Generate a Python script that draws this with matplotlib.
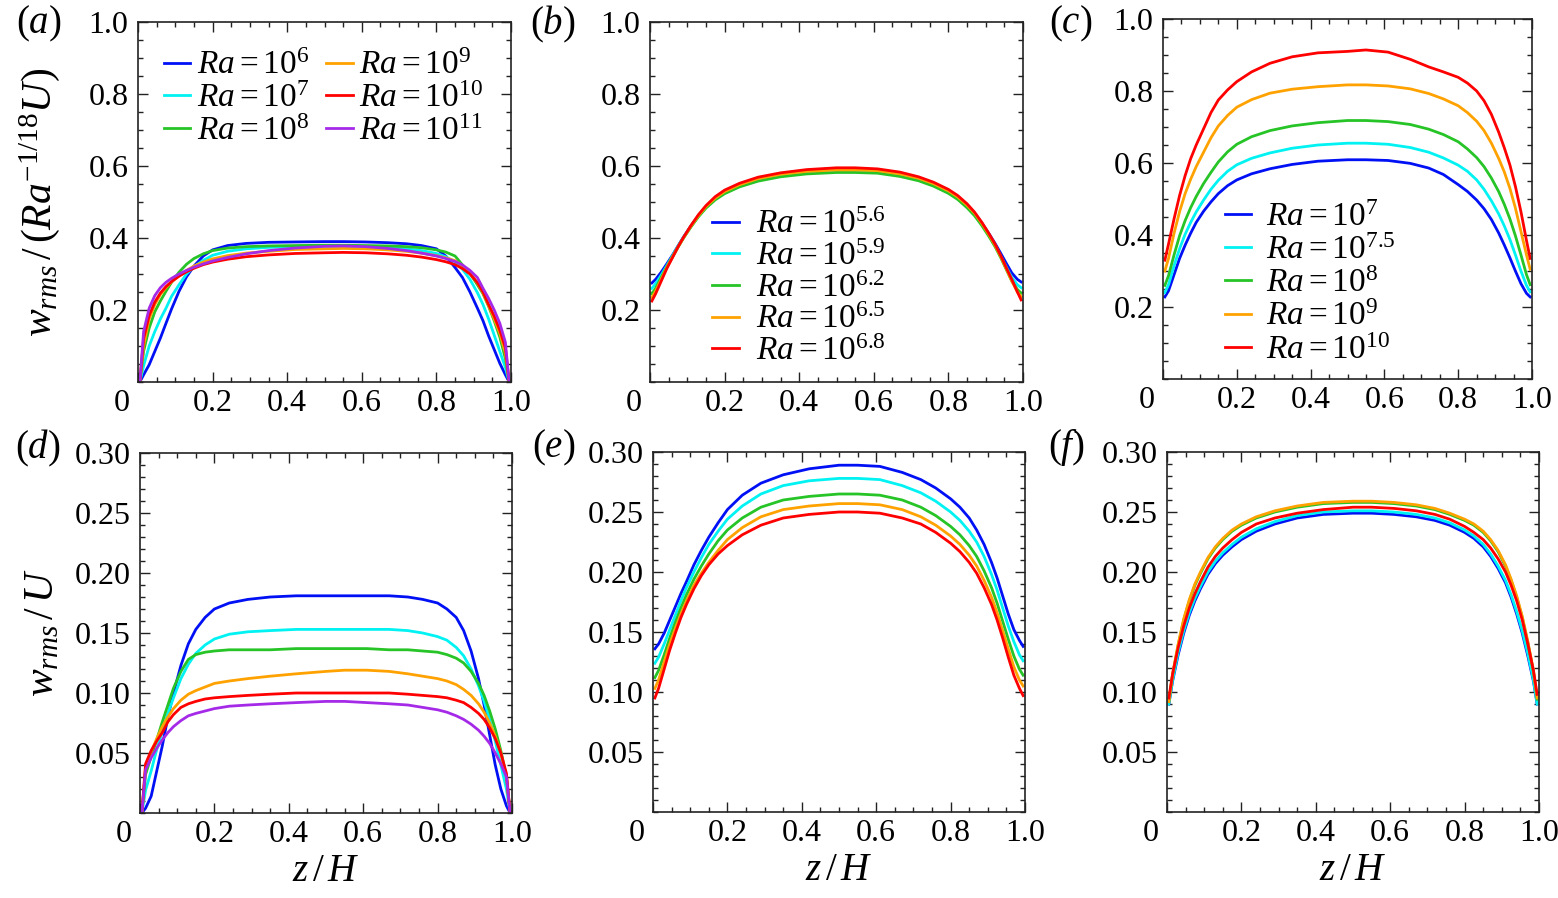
import matplotlib
matplotlib.use("Agg")
import matplotlib.pyplot as plt
from matplotlib.ticker import MultipleLocator, FixedLocator

plt.rcParams['font.family'] = ['Liberation Serif', 'DejaVu Serif']
plt.rcParams['mathtext.fontset'] = 'custom'
plt.rcParams['mathtext.rm'] = 'Liberation Serif'
plt.rcParams['mathtext.it'] = 'Liberation Serif:italic'
plt.rcParams['mathtext.bf'] = 'Liberation Serif:bold'

# ---------------- data ----------------
z = [0.005, 0.015, 0.03, 0.045, 0.06, 0.075, 0.09, 0.11, 0.13, 0.15, 0.175, 0.20, 0.24, 0.29, 0.35, 0.42,
     0.50, 0.55, 0.61,
     0.67, 0.72, 0.76, 0.80, 0.825, 0.85, 0.87, 0.89, 0.91, 0.925, 0.94, 0.955, 0.97, 0.985, 0.995]

# panel (a): w_rms/(Ra^-1/18 U)
a_labels = [r'$Ra=10^{6}$', r'$Ra=10^{7}$', r'$Ra=10^{8}$',
            r'$Ra=10^{9}$', r'$Ra=10^{10}$', r'$Ra=10^{11}$']
a_1e6 = [0.0, 0.02, 0.048, 0.085, 0.122, 0.163, 0.203, 0.252, 0.292, 0.322, 0.35, 0.367, 0.379, 0.385, 0.388, 0.389,
         0.39, 0.39, 0.389,
         0.387, 0.384, 0.379, 0.37, 0.35, 0.318, 0.29, 0.25, 0.205, 0.17, 0.128, 0.09, 0.052, 0.02, 0.0]
a_1e7 = [0.0, 0.045, 0.10, 0.14, 0.175, 0.205, 0.238, 0.27, 0.30, 0.32, 0.338, 0.352, 0.363, 0.37, 0.374, 0.376,
         0.377, 0.377, 0.376,
         0.374, 0.37, 0.365, 0.357, 0.348, 0.333, 0.313, 0.285, 0.248, 0.215, 0.175, 0.13, 0.085, 0.04, 0.0]
a_1e8 = [0.0, 0.085, 0.15, 0.195, 0.225, 0.252, 0.277, 0.305, 0.327, 0.343, 0.356, 0.365, 0.372, 0.376, 0.378, 0.379,
         0.38, 0.38, 0.379,
         0.378, 0.376, 0.373, 0.367, 0.361, 0.35, 0.325, 0.302, 0.27, 0.245, 0.21, 0.17, 0.125, 0.065, 0.0]
a_1e9 = [0.0, 0.10, 0.175, 0.215, 0.243, 0.262, 0.278, 0.295, 0.31, 0.322, 0.333, 0.342, 0.351, 0.358, 0.363, 0.368,
         0.37, 0.371, 0.37,
         0.367, 0.363, 0.358, 0.351, 0.345, 0.337, 0.323, 0.303, 0.275, 0.248, 0.212, 0.175, 0.135, 0.08, 0.0]
a_1e10 = [0.0, 0.12, 0.185, 0.222, 0.247, 0.265, 0.279, 0.294, 0.306, 0.316, 0.326, 0.333, 0.341, 0.348, 0.353, 0.357,
          0.359, 0.36, 0.359,
          0.356, 0.352, 0.347, 0.34, 0.334, 0.326, 0.315, 0.3, 0.276, 0.25, 0.215, 0.183, 0.144, 0.095, 0.0]
a_1e11 = [0.0, 0.14, 0.205, 0.24, 0.262, 0.277, 0.288, 0.30, 0.31, 0.319, 0.328, 0.336, 0.346, 0.356, 0.365, 0.372,
          0.377, 0.378, 0.376,
          0.371, 0.365, 0.358, 0.35, 0.343, 0.335, 0.325, 0.31, 0.29, 0.26, 0.232, 0.20, 0.163, 0.11, 0.0]

# panel (b)
b_labels = [r'$Ra=10^{5.6}$', r'$Ra=10^{5.9}$', r'$Ra=10^{6.2}$',
            r'$Ra=10^{6.5}$', r'$Ra=10^{6.8}$']
b_56 = [0.275, 0.285, 0.305, 0.328, 0.352, 0.378, 0.403, 0.434, 0.462, 0.486, 0.51, 0.528, 0.548, 0.565, 0.577, 0.585,
        0.589, 0.589, 0.587,
        0.578, 0.566, 0.551, 0.531, 0.514, 0.491, 0.469, 0.441, 0.41, 0.385, 0.358, 0.33, 0.303, 0.285, 0.278]
b_59 = [0.26, 0.273, 0.297, 0.323, 0.35, 0.377, 0.402, 0.433, 0.461, 0.485, 0.509, 0.527, 0.547, 0.563, 0.575, 0.583,
        0.587, 0.587, 0.585,
        0.576, 0.564, 0.549, 0.529, 0.512, 0.489, 0.467, 0.439, 0.407, 0.38, 0.35, 0.32, 0.29, 0.27, 0.262]
b_62 = [0.245, 0.26, 0.29, 0.32, 0.347, 0.374, 0.40, 0.431, 0.459, 0.483, 0.506, 0.523, 0.542, 0.558, 0.57, 0.578,
        0.582, 0.582, 0.58,
        0.571, 0.559, 0.544, 0.524, 0.507, 0.484, 0.462, 0.434, 0.402, 0.376, 0.346, 0.313, 0.28, 0.257, 0.247]
b_65 = [0.235, 0.252, 0.285, 0.318, 0.347, 0.375, 0.401, 0.433, 0.462, 0.487, 0.511, 0.529, 0.548, 0.565, 0.577, 0.585,
        0.589, 0.589, 0.587,
        0.578, 0.566, 0.551, 0.531, 0.514, 0.491, 0.469, 0.44, 0.407, 0.38, 0.349, 0.315, 0.28, 0.25, 0.237]
b_68 = [0.225, 0.245, 0.28, 0.315, 0.345, 0.375, 0.402, 0.435, 0.465, 0.49, 0.515, 0.533, 0.552, 0.569, 0.581, 0.59,
        0.595, 0.595, 0.592,
        0.583, 0.57, 0.555, 0.535, 0.518, 0.495, 0.472, 0.443, 0.41, 0.383, 0.352, 0.318, 0.285, 0.25, 0.228]

# panel (c)
c_labels = [r'$Ra=10^{7}$', r'$Ra=10^{7.5}$', r'$Ra=10^{8}$',
            r'$Ra=10^{9}$', r'$Ra=10^{10}$']
c_7 = [0.228, 0.245, 0.29, 0.335, 0.372, 0.405, 0.435, 0.466, 0.492, 0.515, 0.537, 0.553, 0.57, 0.584, 0.596, 0.605,
       0.609, 0.609, 0.607,
       0.599, 0.586, 0.568, 0.54, 0.521, 0.497, 0.473, 0.443, 0.405, 0.372, 0.337, 0.30, 0.265, 0.238, 0.228]
c_75 = [0.24, 0.262, 0.315, 0.362, 0.402, 0.435, 0.464, 0.497, 0.527, 0.552, 0.577, 0.595, 0.613, 0.628, 0.641, 0.65,
        0.655, 0.655, 0.652,
        0.643, 0.63, 0.614, 0.594, 0.577, 0.553, 0.527, 0.495, 0.458, 0.425, 0.388, 0.345, 0.30, 0.26, 0.242]
c_8 = [0.26, 0.287, 0.345, 0.398, 0.44, 0.476, 0.507, 0.543, 0.574, 0.603, 0.631, 0.652, 0.673, 0.69, 0.703, 0.712,
       0.718, 0.718, 0.715,
       0.707, 0.694, 0.679, 0.659, 0.639, 0.615, 0.59, 0.558, 0.52, 0.485, 0.445, 0.398, 0.345, 0.29, 0.262]
c_9 = [0.30, 0.335, 0.405, 0.465, 0.515, 0.555, 0.59, 0.63, 0.67, 0.703, 0.732, 0.755, 0.776, 0.794, 0.805, 0.812,
       0.817, 0.817, 0.814,
       0.806, 0.793, 0.778, 0.759, 0.74, 0.716, 0.69, 0.655, 0.612, 0.575, 0.53, 0.475, 0.41, 0.345, 0.305]
c_10 = [0.33, 0.375, 0.445, 0.51, 0.565, 0.612, 0.65, 0.695, 0.74, 0.775, 0.803, 0.826, 0.853, 0.877, 0.895, 0.906,
        0.91, 0.914, 0.908,
        0.888, 0.867, 0.853, 0.838, 0.822, 0.80, 0.773, 0.735, 0.685, 0.642, 0.595, 0.535, 0.465, 0.385, 0.335]

# panel (d): w_rms/U
d_1e6 = [0.0, 0.004, 0.014, 0.035, 0.056, 0.08, 0.10, 0.123, 0.141, 0.153, 0.163, 0.17, 0.175, 0.178, 0.18, 0.181,
         0.181, 0.181, 0.181,
         0.181, 0.18, 0.178, 0.175, 0.17, 0.163, 0.152, 0.135, 0.112, 0.09, 0.065, 0.04, 0.02, 0.006, 0.0]
d_1e7 = [0.0, 0.019, 0.035, 0.053, 0.068, 0.083, 0.096, 0.112, 0.124, 0.133, 0.14, 0.145, 0.149, 0.151, 0.152, 0.153,
         0.153, 0.153, 0.153,
         0.153, 0.152, 0.15, 0.147, 0.144, 0.138, 0.131, 0.12, 0.106, 0.093, 0.078, 0.06, 0.04, 0.02, 0.0]
d_1e8 = [0.0, 0.032, 0.047, 0.061, 0.076, 0.09, 0.104, 0.118, 0.128, 0.132, 0.134, 0.135, 0.136, 0.136, 0.136, 0.137,
         0.137, 0.137, 0.137,
         0.136, 0.136, 0.135, 0.134, 0.132, 0.129, 0.125, 0.118, 0.108, 0.098, 0.085, 0.07, 0.052, 0.03, 0.0]
d_1e9 = [0.0, 0.038, 0.051, 0.062, 0.072, 0.08, 0.087, 0.094, 0.099, 0.102, 0.105, 0.108, 0.11, 0.112, 0.114, 0.116,
         0.118, 0.119, 0.119,
         0.118, 0.116, 0.114, 0.112, 0.11, 0.107, 0.103, 0.098, 0.091, 0.084, 0.075, 0.064, 0.05, 0.03, 0.0]
d_1e10 = [0.0, 0.041, 0.052, 0.06, 0.067, 0.076, 0.082, 0.088, 0.091, 0.093, 0.095, 0.096, 0.097, 0.098, 0.099, 0.10,
          0.10, 0.10, 0.10,
          0.10, 0.099, 0.098, 0.097, 0.096, 0.094, 0.092, 0.088, 0.083, 0.078, 0.071, 0.062, 0.05, 0.033, 0.0]
d_1e11 = [0.0, 0.036, 0.046, 0.054, 0.061, 0.067, 0.072, 0.077, 0.081, 0.083, 0.085, 0.087, 0.089, 0.09, 0.091, 0.092,
          0.093, 0.093, 0.092,
          0.091, 0.09, 0.088, 0.086, 0.084, 0.081, 0.078, 0.074, 0.069, 0.064, 0.058, 0.05, 0.041, 0.03, 0.0]

# panel (e)
e_56 = [0.136, 0.14, 0.149, 0.16, 0.171, 0.182, 0.192, 0.206, 0.218, 0.229, 0.241, 0.252, 0.264, 0.274, 0.281, 0.286,
        0.289, 0.289, 0.288,
        0.283, 0.277, 0.27, 0.261, 0.254, 0.245, 0.235, 0.223, 0.208, 0.195, 0.18, 0.165, 0.152, 0.143, 0.138]
e_59 = [0.124, 0.129, 0.14, 0.152, 0.164, 0.176, 0.187, 0.20, 0.212, 0.223, 0.234, 0.244, 0.255, 0.265, 0.272, 0.276,
        0.278, 0.278, 0.277,
        0.272, 0.266, 0.259, 0.25, 0.243, 0.234, 0.225, 0.213, 0.198, 0.185, 0.17, 0.155, 0.142, 0.131, 0.126]
e_62 = [0.112, 0.118, 0.131, 0.145, 0.158, 0.17, 0.181, 0.194, 0.205, 0.215, 0.226, 0.235, 0.245, 0.254, 0.26, 0.263,
        0.265, 0.265, 0.264,
        0.26, 0.254, 0.247, 0.238, 0.231, 0.222, 0.213, 0.201, 0.187, 0.174, 0.159, 0.144, 0.13, 0.119, 0.114]
e_65 = [0.103, 0.11, 0.125, 0.14, 0.153, 0.165, 0.176, 0.189, 0.199, 0.208, 0.218, 0.227, 0.237, 0.246, 0.252, 0.255,
        0.257, 0.257, 0.256,
        0.252, 0.246, 0.239, 0.23, 0.223, 0.214, 0.205, 0.193, 0.179, 0.166, 0.151, 0.136, 0.121, 0.11, 0.105]
e_68 = [0.095, 0.103, 0.119, 0.135, 0.149, 0.162, 0.173, 0.186, 0.197, 0.206, 0.215, 0.222, 0.231, 0.239, 0.245, 0.248,
        0.25, 0.25, 0.249,
        0.245, 0.24, 0.233, 0.224, 0.217, 0.208, 0.199, 0.187, 0.173, 0.16, 0.145, 0.129, 0.114, 0.103, 0.097]

# panel (f)
f_7 = [0.09, 0.109, 0.131, 0.149, 0.164, 0.176, 0.186, 0.198, 0.207, 0.214, 0.221, 0.227, 0.234, 0.24, 0.245, 0.248,
       0.249, 0.249, 0.248,
       0.246, 0.243, 0.239, 0.233, 0.228, 0.221, 0.213, 0.203, 0.191, 0.179, 0.165, 0.149, 0.13, 0.109, 0.09]
f_75 = [0.09, 0.11, 0.133, 0.151, 0.166, 0.178, 0.188, 0.20, 0.209, 0.216, 0.223, 0.229, 0.236, 0.242, 0.247, 0.25,
        0.251, 0.251, 0.25,
        0.248, 0.245, 0.241, 0.235, 0.23, 0.223, 0.215, 0.205, 0.193, 0.181, 0.167, 0.151, 0.132, 0.11, 0.09]
f_8 = [0.092, 0.114, 0.139, 0.16, 0.176, 0.189, 0.199, 0.211, 0.22, 0.227, 0.234, 0.239, 0.245, 0.25, 0.254, 0.257,
       0.258, 0.258, 0.257,
       0.255, 0.252, 0.248, 0.243, 0.239, 0.233, 0.226, 0.217, 0.205, 0.193, 0.179, 0.162, 0.141, 0.117, 0.094]
f_9 = [0.092, 0.115, 0.14, 0.161, 0.177, 0.19, 0.20, 0.212, 0.221, 0.228, 0.235, 0.24, 0.246, 0.251, 0.255, 0.258,
       0.259, 0.259, 0.258,
       0.256, 0.253, 0.249, 0.244, 0.24, 0.234, 0.227, 0.218, 0.206, 0.194, 0.18, 0.163, 0.142, 0.118, 0.095]
f_10 = [0.095, 0.115, 0.137, 0.155, 0.17, 0.182, 0.192, 0.204, 0.213, 0.22, 0.227, 0.233, 0.24, 0.245, 0.249, 0.252,
        0.254, 0.254, 0.253,
        0.251, 0.248, 0.244, 0.238, 0.233, 0.227, 0.22, 0.211, 0.20, 0.189, 0.176, 0.16, 0.14, 0.118, 0.098]

x_ticks = [0, 0.2, 0.4, 0.6, 0.8, 1.0]
x_ticklabels = ['0 ', '0.2', '0.4', '0.6', '0.8', '1.0']
top_yticks = [0.2, 0.4, 0.6, 0.8, 1.0]
top_yticklabels = ['0.2', '0.4', '0.6', '0.8', '1.0']
bot_yticks = [0.05, 0.10, 0.15, 0.20, 0.25, 0.30]
bot_yticklabels = ['0.05', '0.10', '0.15', '0.20', '0.25', '0.30']

# ---------------- style ----------------
C_BLUE = '#0010f5'
C_CYAN = '#00f2f2'
C_GREEN = '#26c426'
C_ORANGE = '#ffa200'
C_RED = '#ff0000'
C_PURPLE = '#a52ae8'
LW = 2.0
TICKFS = 23
LEGFS = 24

fig = plt.figure(figsize=(15.58, 8.98), dpi=100)
W, H = 1558.0, 898.0


def make_ax(l, t, r, b):
    return fig.add_axes([l / W, 1 - b / H, (r - l) / W, (b - t) / H])


def style(ax, top):
    ax.set_xlim(0, 1)
    if top:
        ax.set_ylim(0, 1.0)
        ax.yaxis.set_major_locator(FixedLocator(top_yticks))
        ax.set_yticklabels(top_yticklabels)
        ax.yaxis.set_minor_locator(MultipleLocator(0.05))
    else:
        ax.set_ylim(0, 0.30)
        ax.yaxis.set_major_locator(FixedLocator(bot_yticks))
        ax.set_yticklabels(bot_yticklabels)
        ax.yaxis.set_minor_locator(MultipleLocator(0.01))
    ax.xaxis.set_major_locator(FixedLocator(x_ticks))
    ax.set_xticklabels(x_ticklabels)
    ax.xaxis.set_minor_locator(MultipleLocator(0.05))
    ax.tick_params(which='both', direction='in', top=True, right=True,
                   labelsize=TICKFS, width=1.0, colors='#222222', labelcolor='black')
    ax.tick_params(which='major', length=7, pad=7)
    ax.tick_params(axis='x', which='major', pad=5)
    ax.tick_params(which='minor', length=3.5)
    for lab in ax.get_xticklabels():
        if lab.get_text().strip() == '0':
            lab.set_horizontalalignment('right')
    for s in ax.spines.values():
        s.set_linewidth(1.2)
        s.set_color('#222222')


axa = make_ax(138, 22, 511, 382)
axb = make_ax(650, 22, 1023, 382)
axc = make_ax(1163, 19, 1532, 379)
axd = make_ax(140, 453, 512, 813)
axe = make_ax(653, 452, 1025, 812)
axf = make_ax(1167, 452, 1539, 812)

# (a)
for y, c, lab in zip([a_1e6, a_1e7, a_1e8, a_1e9, a_1e10, a_1e11],
                     [C_BLUE, C_CYAN, C_GREEN, C_ORANGE, C_RED, C_PURPLE], a_labels):
    axa.plot(z, y, color=c, lw=LW, label=lab)
style(axa, True)
axa.legend(loc='upper left', ncol=2, frameon=False, fontsize=LEGFS,
           handlelength=0.8, handletextpad=0.2, labelspacing=0.06,
           columnspacing=0.5, bbox_to_anchor=(0.033, 0.957), borderaxespad=0.0)
axa.set_ylabel(r'$w_{rms}\,/\,(Ra^{-1/18}U)$', fontsize=30)
axa.yaxis.set_label_coords(-0.203, 0.5)

# (b)
for y, c, lab in zip([b_56, b_59, b_62, b_65, b_68],
                     [C_BLUE, C_CYAN, C_GREEN, C_ORANGE, C_RED], b_labels):
    axb.plot(z, y, color=c, lw=LW, label=lab)
style(axb, True)
axb.legend(loc='lower left', frameon=False, fontsize=LEGFS,
           handlelength=0.8, handletextpad=0.5, labelspacing=0.03,
           bbox_to_anchor=(0.131, 0.005), borderaxespad=0.0)

# (c)
for y, c, lab in zip([c_7, c_75, c_8, c_9, c_10],
                     [C_BLUE, C_CYAN, C_GREEN, C_ORANGE, C_RED], c_labels):
    axc.plot(z, y, color=c, lw=LW, label=lab)
style(axc, True)
axc.legend(loc='lower left', frameon=False, fontsize=LEGFS,
           handlelength=0.8, handletextpad=0.45, labelspacing=0.08,
           bbox_to_anchor=(0.131, 0.0), borderaxespad=0.0)

# (d)
for y, c in zip([d_1e6, d_1e7, d_1e8, d_1e9, d_1e10, d_1e11],
                [C_BLUE, C_CYAN, C_GREEN, C_ORANGE, C_RED, C_PURPLE]):
    axd.plot(z, y, color=c, lw=LW)
style(axd, False)
axd.set_ylabel(r'$w_{rms}\,/\,U$', fontsize=30)
axd.yaxis.set_label_coords(-0.209, 0.5)
axd.set_xlabel(r'$z\,/\,H$', fontsize=28, labelpad=3)

# (e)
for y, c in zip([e_56, e_59, e_62, e_65, e_68],
                [C_BLUE, C_CYAN, C_GREEN, C_ORANGE, C_RED]):
    axe.plot(z, y, color=c, lw=LW)
style(axe, False)
axe.set_xlabel(r'$z\,/\,H$', fontsize=28, labelpad=3)

# (f)
for y, c in zip([f_7, f_75, f_8, f_9, f_10],
                [C_BLUE, C_CYAN, C_GREEN, C_ORANGE, C_RED]):
    axf.plot(z, y, color=c, lw=LW)
style(axf, False)
axf.set_xlabel(r'$z\,/\,H$', fontsize=28, labelpad=3)

# panel labels
for txt, xp, yp in [('(a)', 39, 24), ('(b)', 553, 24), ('(c)', 1071, 24),
                    ('(d)', 38, 448), ('(e)', 554, 448), ('(f)', 1066, 448)]:
    fig.text(xp / W, 1 - yp / H, r'$%s$' % txt, fontsize=28, ha='center', va='center')

fig.savefig('out.png', dpi=100)
